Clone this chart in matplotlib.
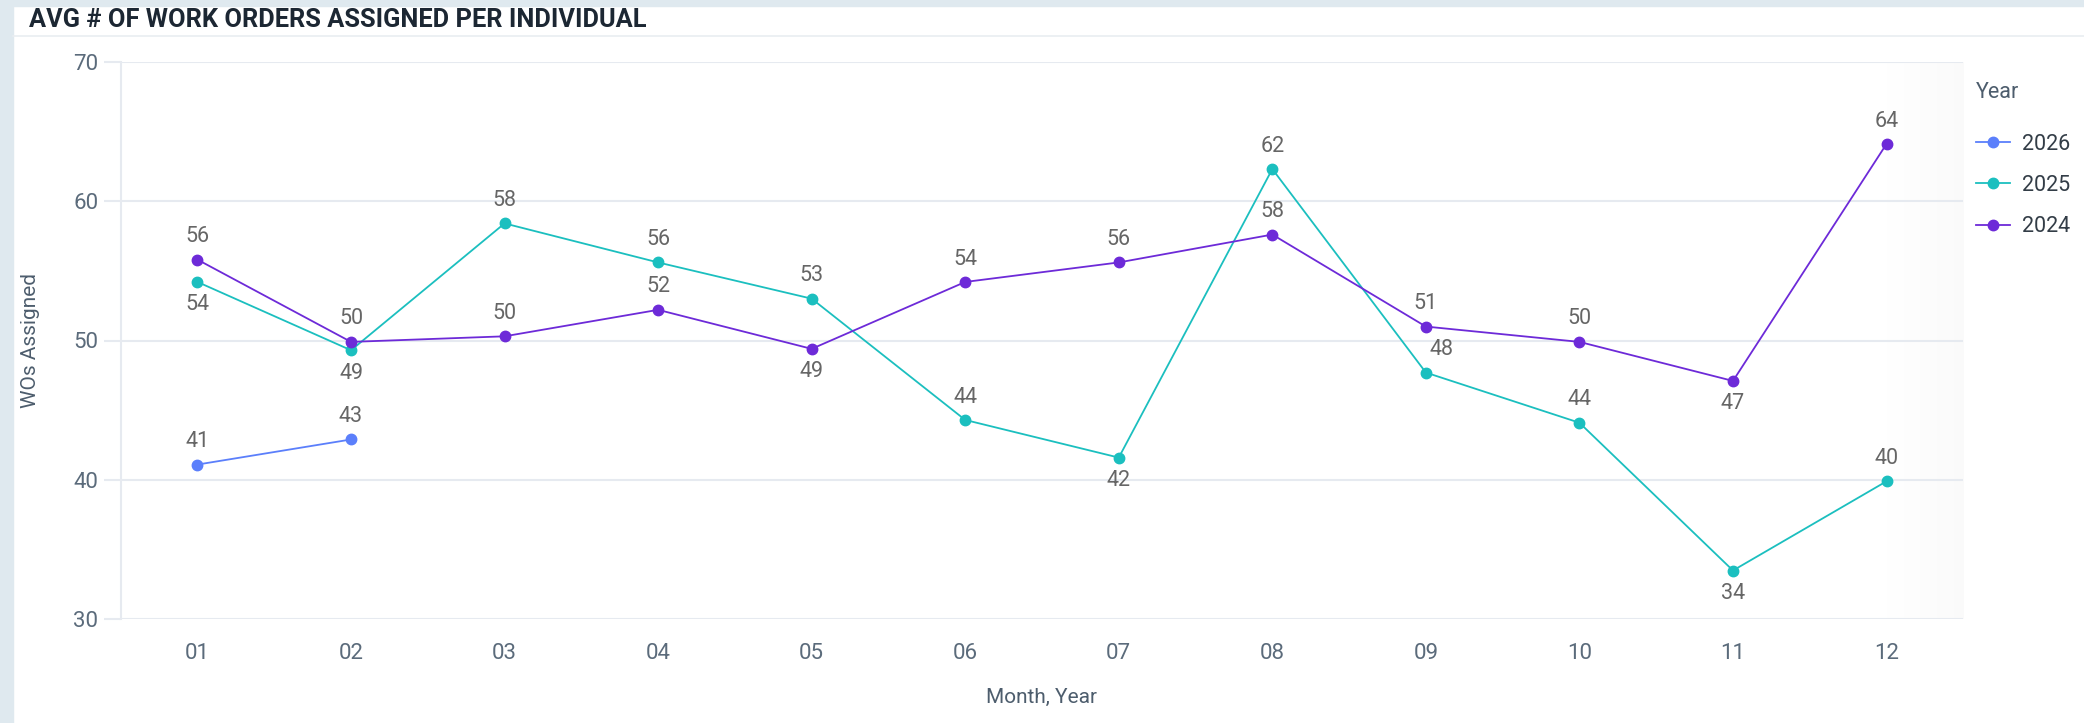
import numpy as np
import matplotlib.pyplot as plt
from matplotlib.patches import Rectangle

plt.rcParams['font.family'] = ['Roboto', 'DejaVu Sans']

# data
months = ["01", "02", "03", "04", "05", "06", "07", "08", "09", "10", "11", "12"]
years = ["2026", "2025", "2024"]
wo_2026 = [41.1, 42.9]
wo_2025 = [54.2, 49.3, 58.4, 55.6, 53.0, 44.3, 41.6, 62.3, 47.7, 44.1, 33.5, 39.9]
wo_2024 = [55.8, 49.9, 50.3, 52.2, 49.4, 54.2, 55.6, 57.6, 51.0, 49.9, 47.1, 64.1]

# where each value label sits: 1 above the dot, -1 below
pos_2026 = [1, 1]
pos_2025 = [-1, -1, 1, 1, 1, 1, -1, 1, 1, 1, -1, 1]
pos_2024 = [1, 1, 1, 1, -1, 1, 1, 1, 1, 1, -1, 1]

colors = {"2026": "#5b7ffb", "2025": "#1bbfbf", "2024": "#6d2ad8"}
series = {"2026": (wo_2026, pos_2026), "2025": (wo_2025, pos_2025), "2024": (wo_2024, pos_2024)}

W, H = 2084, 723
fig = plt.figure(figsize=(W / 100, H / 100), dpi=100)
fig.patch.set_facecolor("white")

# dashboard frame
fig.patches.append(Rectangle((0, 0), 13 / W, 1, transform=fig.transFigure, color="#dfe9ef", zorder=0))
fig.patches.append(Rectangle((0, 1 - 6 / H), 1, 6 / H, transform=fig.transFigure, color="#dfe9ef", zorder=0))
fig.lines.append(plt.Line2D([13 / W, 1], [1 - 36 / H, 1 - 36 / H], transform=fig.transFigure,
                            color="#e9edf1", lw=1.2))
fig.text(29 / W, 1 - 20 / H, "AVG # OF WORK ORDERS ASSIGNED PER INDIVIDUAL", fontsize=18.3,
         fontweight="bold", color="#1c2733", va="center", ha="left")

ax = fig.add_axes([120.7 / W, 1 - 619.3 / H, (1963.3 - 120.7) / W, (619.3 - 61.7) / H])
x = np.arange(len(months))

# faint shadow at the right edge of the plot area
grad = np.linspace(0, 1, 100).reshape(1, -1)
ax.imshow(grad, extent=(10.95, 11.5, 30, 70), aspect="auto", cmap="Greys", vmin=0, vmax=25,
          zorder=0, interpolation="bilinear")

for yr in years:
    vals, pos = series[yr]
    xs = x[:len(vals)]
    ax.plot(xs, vals, color=colors[yr], lw=1.3, marker="o", ms=7.5, label=yr, zorder=3)
    for xi, v, p in zip(xs, vals, pos):
        dx = 0
        if yr == "2025" and xi == 8:
            dx = 11
        ax.annotate(f"{v:.0f}", (xi, v), xytext=(dx, 16.5 * p), textcoords="offset points",
                    ha="center", va="center", fontsize=15.5, color="#666666", zorder=4)

ax.set_xlim(-0.5, 11.5)
ax.set_ylim(30, 70)
ax.set_yticks([30, 40, 50, 60, 70])
ax.set_xticks(x)
ax.set_xticklabels(months)
ax.grid(axis="y", color="#e6eaf0", lw=1.5, zorder=1)
for s in ["top", "right", "bottom"]:
    ax.spines[s].set_visible(False)
ax.spines["left"].set_color("#e6eaf0")
ax.spines["left"].set_linewidth(1.5)
ax.tick_params(axis="y", length=12, width=1.5, color="#e6eaf0", labelsize=16,
               labelcolor="#5b6b7b", pad=4)
ax.tick_params(axis="x", length=0, labelsize=16, labelcolor="#5b6b7b", pad=17)
ax.set_xlabel("Month, Year", fontsize=15, color="#4d5d6d", labelpad=17)
ax.set_ylabel("WOs Assigned", fontsize=15, color="#4d5d6d")
ax.yaxis.label.set_va("center")
ax.yaxis.set_label_coords(-(120.7 - 31) / (1963.3 - 120.7), 0.5)

leg = ax.legend(loc="upper left", bbox_to_anchor=(1976 / W, 1 - 82 / H), bbox_transform=fig.transFigure,
                frameon=False, title="Year", alignment="left", fontsize=15.5, title_fontsize=15.5,
                handlelength=1.6, handletextpad=0.55, labelspacing=0.95, borderpad=0, borderaxespad=0)
leg.get_title().set_color("#4d5d6d")
for t in leg.get_texts():
    t.set_color("#333d47")
leg._legend_box.sep = 22

fig.savefig("out.png", dpi=100)
